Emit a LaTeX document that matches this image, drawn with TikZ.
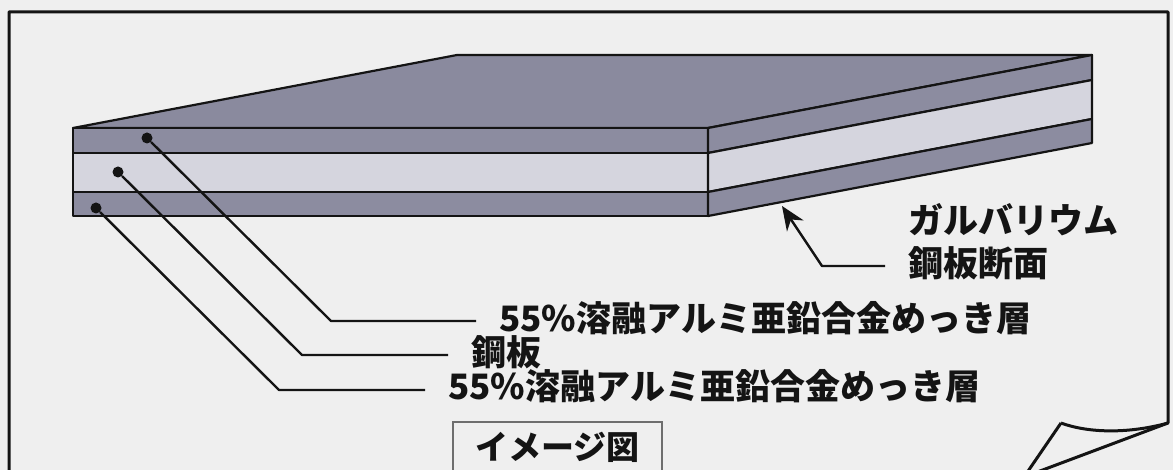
\documentclass[tikz,border=0pt]{standalone}
\usepackage{fontspec}
\usepackage{tikz}
\usetikzlibrary{arrows.meta}
\newfontfamily\jpfont{Noto Sans CJK JP}
\definecolor{bg}{HTML}{EFEFEF}
\definecolor{coat}{HTML}{8C8CA0}
\definecolor{core}{HTML}{D5D5DE}
\definecolor{topcoat}{HTML}{8A8A9E}
\definecolor{ink}{HTML}{141414}
\definecolor{boxline}{HTML}{6E6E6E}
\tikzset{
  frame/.style={draw=ink, line width=3pt, line join=round},
  edge/.style={draw=ink, line width=2.2pt, line join=round},
  lead/.style={draw=ink, line width=2.4pt, line join=round},
  arr/.style={lead, -{Stealth[length=24pt,width=20pt]}},
  dot/.style={circle, fill=ink, inner sep=0pt, minimum size=11pt},
  lab/.style={text=ink, font=\jpfont\bfseries\fontsize{35}{40}\selectfont,
    anchor=west, inner xsep=23pt, inner ysep=0pt},
  capbox/.style={draw=boxline, line width=1.8pt, text=ink,
    font=\jpfont\bfseries\fontsize{33}{38}\selectfont,
    minimum width=209pt, minimum height=50pt, inner sep=0pt},
}

\begin{document}
\begin{tikzpicture}[x=1pt,y=-1pt]
  \useasboundingbox (0,0) rectangle (1173,470);
  \clip (0,0) rectangle (1173,470);
  \fill[bg] (0,0) rectangle (1173,470);

  % sheet with the curled corner
  \draw[frame] (9,490) -- (9,12) -- (1168,12) -- (1168,423)
    .. controls (1128,434) and (1088,433) .. (1061,423);
  \draw[frame] (1061,423) -- (1024,477) -- (1168,423);

  % slab: top face, front face, right face
  \coordinate (A) at (73,128);
  \coordinate (B) at (708,128);
  \coordinate (C) at (1092,55);
  \coordinate (D) at (457,55);

  \filldraw[edge,fill=topcoat] (A) -- (D) -- (C) -- (B) -- cycle;

  \filldraw[edge,fill=coat] (73,128) rectangle (708,153);
  \filldraw[edge,fill=core] (73,153) rectangle (708,192);
  \filldraw[edge,fill=coat] (73,192) rectangle (708,216);

  \filldraw[edge,fill=coat] (708,128) -- (1092,55) -- (1092,80) -- (708,153) -- cycle;
  \filldraw[edge,fill=core] (708,153) -- (1092,80) -- (1092,119) -- (708,192) -- cycle;
  \filldraw[edge,fill=coat] (708,192) -- (1092,119) -- (1092,143) -- (708,216) -- cycle;

  % layer markers
  \node[dot] (d1) at (147,138) {};
  \node[dot] (d2) at (118,172) {};
  \node[dot] (d3) at (96,208) {};

  \coordinate (k1) at (331,321);
  \coordinate (k2) at (302,355);
  \coordinate (k3) at (279,390);

  \node[lab] (l1) at (476,318) {55\%溶融アルミ亜鉛合金めっき層};
  \node[lab] (l2) at (448,352) {鋼板};
  \node[lab] (l3) at (425,386) {55\%溶融アルミ亜鉛合金めっき層};

  \draw[lead] (d1) -- (k1) -- (k1 -| l1.west);
  \draw[lead] (d2) -- (k2) -- (k2 -| l2.west);
  \draw[lead] (d3) -- (k3) -- (k3 -| l3.west);

  % section callout
  \node[lab] (gal) at (885,220) {ガルバリウム};
  \node[lab] (sect) at (885,263) {鋼板断面};
  \coordinate (bend) at (822,266);
  \coordinate (tip) at (782,206);
  \draw[arr] (bend -| sect.west) -- (bend) -- (tip);

  \node[capbox] (cap) at (557.5,447) {イメージ図};
\end{tikzpicture}
\end{document}
